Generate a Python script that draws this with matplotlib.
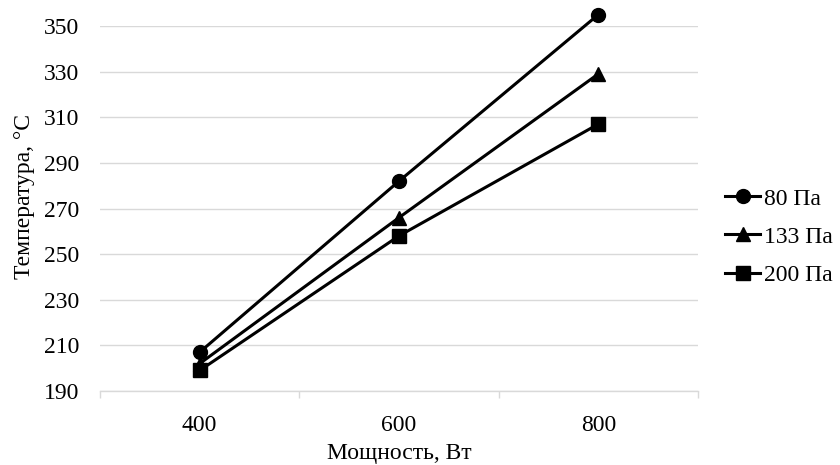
import matplotlib
matplotlib.use("Agg")
import matplotlib.pyplot as plt
import numpy as np

power = ["400", "600", "800"]
series_labels = ["80 Па", "133 Па", "200 Па"]
t_80 = [207, 282, 355]
t_133 = [202, 266, 329]
t_200 = [199, 258, 307]
y_ticks = [190, 210, 230, 250, 270, 290, 310, 330, 350]

plt.rcParams['font.family'] = ['Liberation Serif', 'DejaVu Serif']
FS = 17

fig = plt.figure(figsize=(8.4, 4.65), dpi=100)
ax = fig.add_axes([100/840, 1-391/465, 598/840, 365/465])

x = np.arange(len(power))
markers = ['o', '^', 's']
msizes = [10, 10.5, 9.5]
handles = []
for vals, lab, m, ms in zip([t_80, t_133, t_200], series_labels, markers, msizes):
    h, = ax.plot(x, vals, color='black', lw=2.2, marker=m, markersize=ms, label=lab,
                 zorder=3, clip_on=False)
    handles.append(h)

ax.set_xlim(-0.5, 2.5)
ax.set_ylim(190, 350)
ax.set_yticks(y_ticks)
ax.yaxis.grid(True, color='#d9d9d9', lw=1.0)
ax.set_axisbelow(True)
for s in ['top', 'right', 'left']:
    ax.spines[s].set_visible(False)
ax.spines['bottom'].set_color('#d9d9d9')
ax.spines['bottom'].set_linewidth(1.0)

ax.set_xticks(x)
ax.set_xticklabels(power)
ax.set_xticks([-0.5, 0.5, 1.5, 2.5], minor=True)
ax.tick_params(axis='x', which='major', length=0, pad=17, labelsize=FS)
ax.tick_params(axis='x', which='minor', length=5, color='#d9d9d9', width=1.0, direction='out')
ax.tick_params(axis='y', length=0, pad=15, labelsize=FS)

ax.set_xlabel("Мощность, Вт", fontsize=FS)
ax.xaxis.label.set_va('baseline')
ax.xaxis.set_label_coords(0.5, -(459-391)/365)
ax.set_ylabel("Температура, °C", fontsize=FS)
ax.yaxis.set_label_coords(-(100-35)/598, (391-196)/365)

fig.legend(handles=handles, labels=series_labels, loc='center left',
           bbox_to_anchor=(725/840, 1-237/465), frameon=False, fontsize=FS,
           handlelength=1.5, handletextpad=0.15, labelspacing=0.7, borderaxespad=0,
           borderpad=0)

fig.savefig("out.png", dpi=100)
